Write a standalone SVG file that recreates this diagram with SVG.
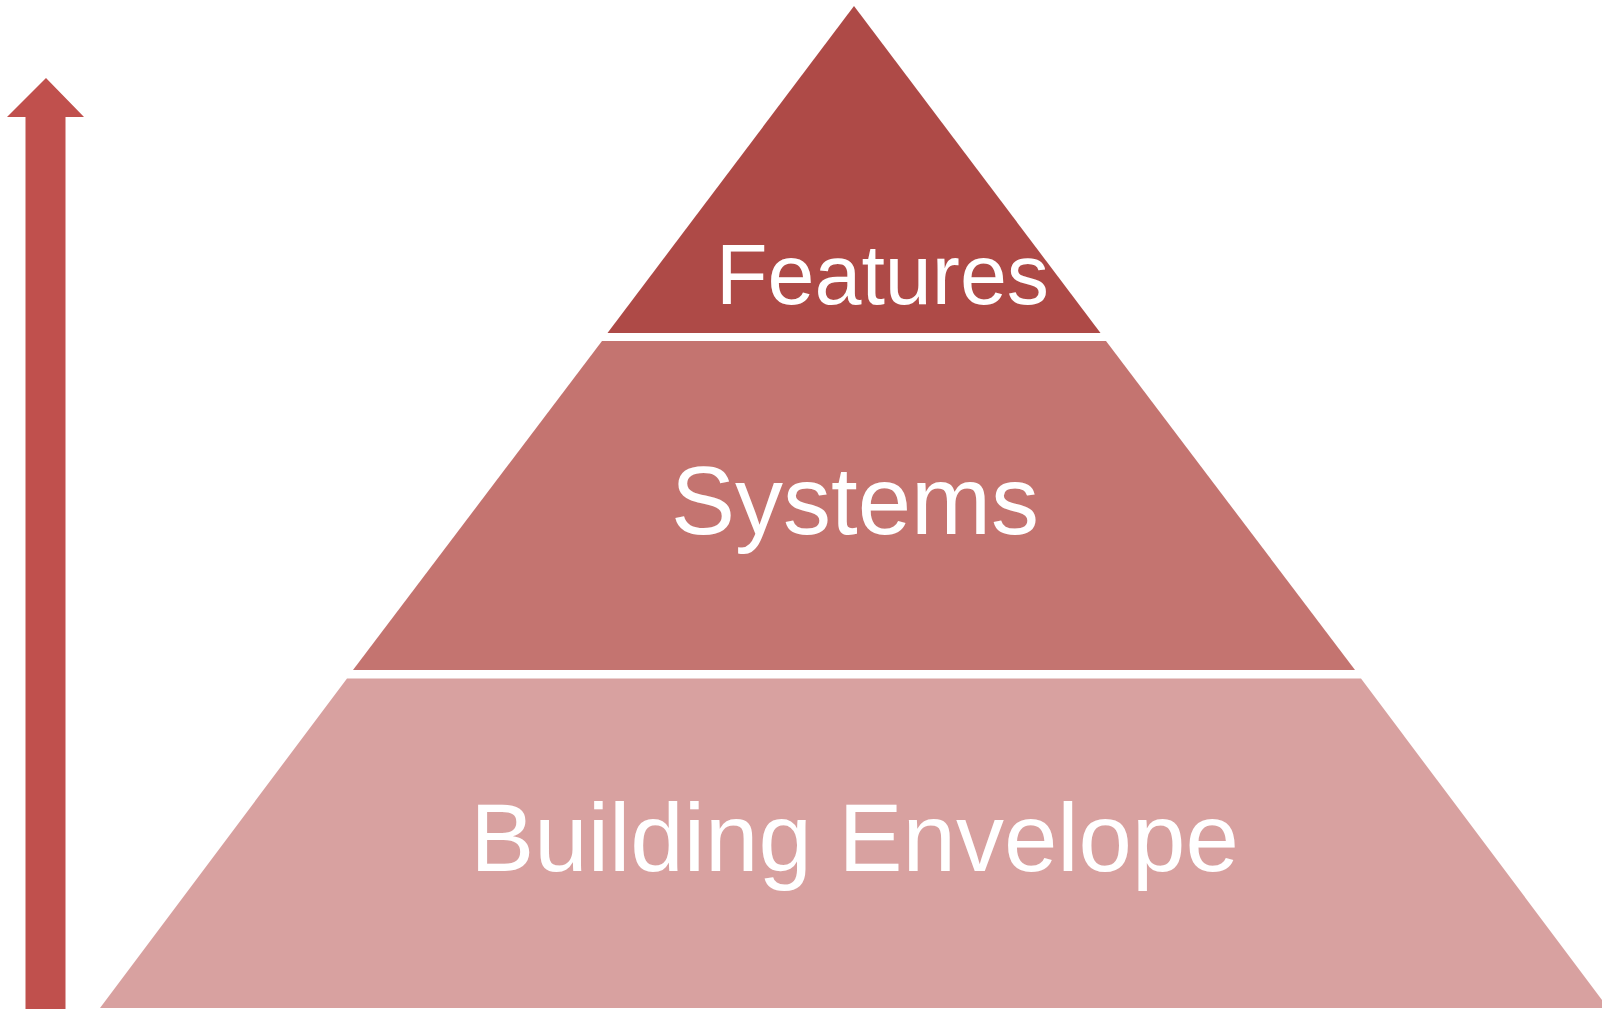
<svg xmlns="http://www.w3.org/2000/svg" width="1602" height="1009" viewBox="0 0 1602 1009">
<style>
.lbl{font-family:"Liberation Sans",Arial,sans-serif;fill:#FFFFFF}
</style>
<rect width="1602" height="1009" fill="#FFFFFF"/>
<g id="connectors">
<polygon id="arrow" points="46,78 84,117 65.5,117 65.5,1009 25.5,1009 25.5,117 7,117" fill="#C0504D"/>
</g>
<g id="features">
<polygon points="854,6 1100.5,333 607.5,333" fill="#AE4A47"/>
<text class="lbl" x="716" y="303.5" font-size="85" textLength="333" lengthAdjust="spacingAndGlyphs">Features</text>
</g>
<g id="systems">
<polygon points="602,341 1106,341 1355,670 353,670" fill="#C47470"/>
<text class="lbl" x="855" y="534" font-size="96" text-anchor="middle">Systems</text>
</g>
<g id="building-envelope">
<polygon points="347,678.5 1361,678.5 1608,1008 100,1008" fill="#D8A1A0"/>
<text class="lbl" x="854.5" y="871" font-size="96" text-anchor="middle">Building Envelope</text>
</g>
</svg>
